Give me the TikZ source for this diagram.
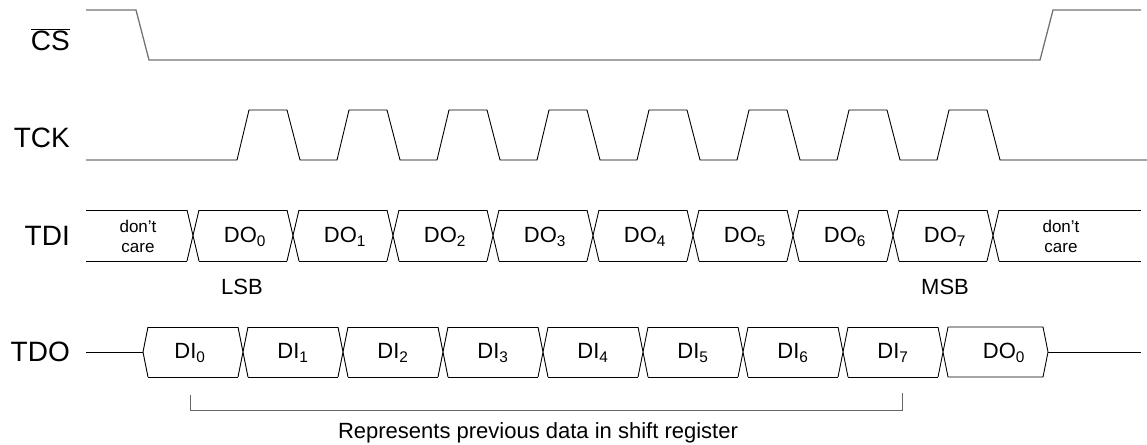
\documentclass[tikz,border=0pt]{standalone}
\usepackage{fontspec}
\setmainfont{Liberation Sans}
\begin{document}
\begin{tikzpicture}[x=1pt,y=-1pt,line join=miter,
  sig/.style={line width=0.9pt,black},
  cssig/.style={line width=1.3pt,black!55},
  brk/.style={line width=0.9pt,black!60},
  lab/.style={anchor=east,font=\fontsize{28}{28}\selectfont,inner sep=0pt},
  cell/.style={font=\fontsize{22}{22}\selectfont,inner sep=0pt},
  small/.style={font=\fontsize{17}{20}\selectfont,align=center,inner sep=0pt},
  note/.style={font=\fontsize{22}{22}\selectfont,inner sep=0pt}]
\useasboundingbox (0,0) rectangle (1147,444);
% labels
\node[lab] (lcs) at (70,40) {$\overline{\hbox{CS}}$};
\node[lab] (ltck) at (70,138) {TCK};
\node[lab] (ltdi) at (70,236) {TDI};
\node[lab] (ltdo) at (70,352) {TDO};
% CS
\draw[cssig] (86,10) -- (136,10) -- (149,60) -- (1040,60) -- (1053,10) -- (1141,10);
% TCK
\draw[sig] (86,160) foreach \k in {0,...,7} { -- ({237+100*\k},160) -- ({249+100*\k},110) -- ({287+100*\k},110) -- ({300+100*\k},160) } -- (1147,160);
% TDI
\foreach \k in {0,...,8} {
  \pgfmathsetmacro\c{193+100*\k}
  \draw[sig] (\c-6,210) -- (\c+6,261) (\c-6,261) -- (\c+6,210);
}
\foreach \k in {0,...,7} {
  \pgfmathsetmacro\c{193+100*\k}
  \draw[sig] (\c+6,210) -- (\c+94,210) (\c+6,261) -- (\c+94,261);
}
\draw[sig] (86,210) -- (187,210) (86,261) -- (187,261);
\draw[sig] (999,210) -- (1141,210) (999,261) -- (1141,261);
\node[small] (dc1) at (138,236) {don’t\\care};
\node[small] (dc2) at (1061,236) {don’t\\care};
\foreach \k in {0,...,7} {
  \node[cell] (do\k) at ({245+100*\k},237) {DO\textsubscript{\k}};
}
\node[cell] (lsb) at (242,287) {LSB};
\node[cell] (msb) at (945,287) {MSB};
% TDO
\draw[sig] (86,352) -- (143,352);
\draw[sig] (148,327) -- (143,352) -- (148,377);
\foreach \k in {0,...,7} {
  \pgfmathsetmacro\c{243+100*\k}
  \draw[sig] (\c-5,327) -- (\c+5,377) (\c-5,377) -- (\c+5,327);
}
\draw[sig] (148,327) -- (238,327) (148,377) -- (238,377);
\foreach \k in {0,...,6} {
  \pgfmathsetmacro\c{243+100*\k}
  \draw[sig] (\c+5,327) -- (\c+95,327) (\c+5,377) -- (\c+95,377);
}
\draw[sig] (948,327) -- (1043,327) -- (1048,352) -- (1043,377) -- (948,377);
\draw[sig] (1048,352) -- (1141,352);
\node[cell] (di0) at (190,353) {DI\textsubscript{0}};
\foreach \k in {1,...,7} {
  \node[cell] (di\k) at ({293+100*(\k-1)},353) {DI\textsubscript{\k}};
}
\node[cell] (dox) at (1004,353) {DO\textsubscript{0}};
% bracket
\draw[brk] (190,395) -- (190,410) -- (902,410) -- (902,393);
\node[note] (rep) at (538,433) {Represents previous data in shift register};
\end{tikzpicture}
\end{document}
